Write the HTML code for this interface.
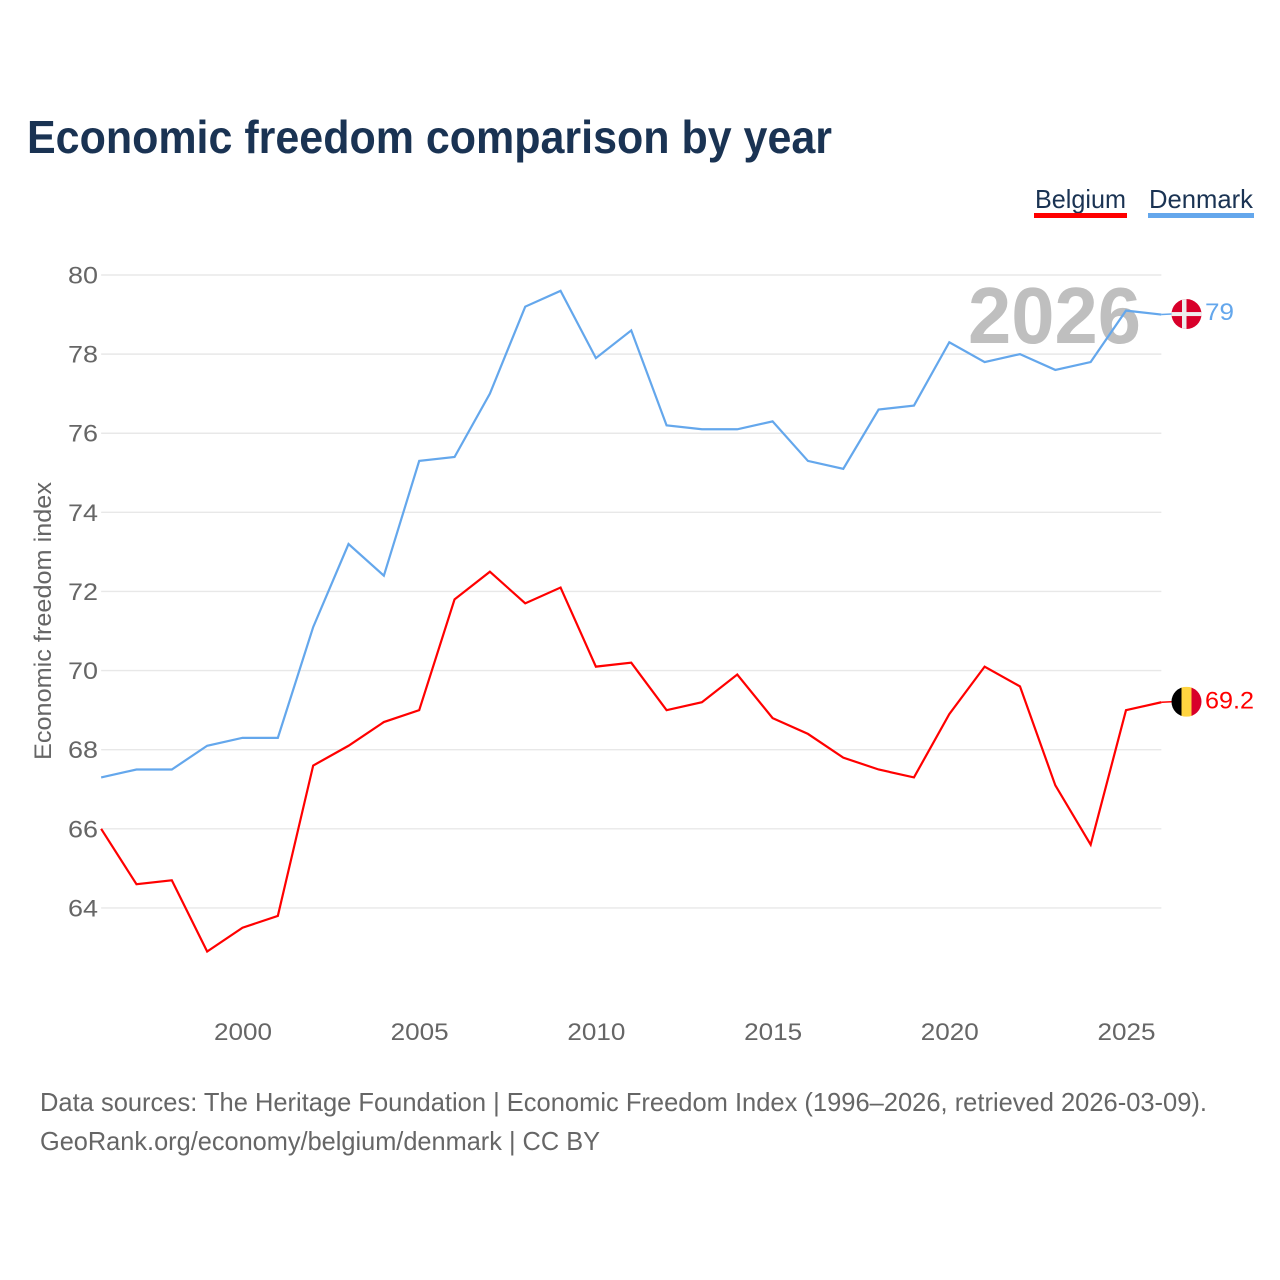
<!DOCTYPE html>
<html lang="en">
<head>
<meta charset="utf-8">
<title>Economic freedom comparison by year</title>
<style>
html,body{margin:0;padding:0;background:#fff;width:1280px;height:1280px;overflow:hidden}
svg{display:block}
text{font-family:"Liberation Sans",sans-serif}
</style>
</head>
<body>
<svg id="chart" width="1280" height="1280" viewBox="0 0 1280 1280" xmlns="http://www.w3.org/2000/svg">
  <text x="27" y="153" font-size="46" font-weight="700" fill="#1a3353" textLength="805" lengthAdjust="spacingAndGlyphs">Economic freedom comparison by year</text>

  <g>
    <g>
      <text x="1035" y="208" font-size="26" fill="#1a3353" textLength="91" lengthAdjust="spacingAndGlyphs">Belgium</text>
      <rect x="1034" y="213" width="93" height="5" fill="#ff0000"></rect>
    </g>
    <g>
      <text x="1149" y="208" font-size="26" fill="#1a3353" textLength="104" lengthAdjust="spacingAndGlyphs">Denmark</text>
      <rect x="1148" y="213" width="106" height="5" fill="#64a7ec"></rect>
    </g>
  </g>

  <g id="grid"></g>
  <g id="yticks"></g>
  <g id="xticks"></g>

  <text transform="translate(51 760) rotate(-90)" x="0" y="0" font-size="24" fill="#666666" textLength="278" lengthAdjust="spacingAndGlyphs">Economic freedom index</text>

  <text x="968" y="343" font-size="80" font-weight="700" fill="#bfbfbf" textLength="173" lengthAdjust="spacingAndGlyphs">2026</text>

  <g id="series"></g>
  <g id="ends"></g>

  <g>
    <text x="40" y="1111" font-size="26" fill="#666666" textLength="1167" lengthAdjust="spacingAndGlyphs">Data sources: The Heritage Foundation | Economic Freedom Index (1996–2026, retrieved 2026-03-09).</text>
    <text x="40" y="1150" font-size="26" fill="#666666" textLength="560" lengthAdjust="spacingAndGlyphs">GeoRank.org/economy/belgium/denmark | CC BY</text>
  </g>
</svg>
<script>
const years = [1996,1997,1998,1999,2000,2001,2002,2003,2004,2005,2006,2007,2008,2009,2010,2011,2012,2013,2014,2015,2016,2017,2018,2019,2020,2021,2022,2023,2024,2025,2026];
const belgium = [66,64.6,64.7,62.9,63.5,63.8,67.6,68.1,68.7,69,71.8,72.5,71.7,72.1,70.1,70.2,69,69.2,69.9,68.8,68.4,67.8,67.5,67.3,68.9,70.1,69.6,67.1,65.6,69,69.2];
const denmark = [67.3,67.5,67.5,68.1,68.3,68.3,71.1,73.2,72.4,75.3,75.4,77,79.2,79.6,77.9,78.6,76.2,76.1,76.1,76.3,75.3,75.1,76.6,76.7,78.3,77.8,78,77.6,77.8,79.1,79];
const yTicks = [64,66,68,70,72,74,76,78,80];
const xTicks = [2000,2005,2010,2015,2020,2025];

const NS = 'http://www.w3.org/2000/svg';
function x(year){ return 242.5 + (year - 2000) * 35.34; }
function y(value){ return 275 + (80 - value) * 39.56; }
function make(parent, tag, attrs, text){
  const el = document.createElementNS(NS, tag);
  for (const k in attrs) el.setAttribute(k, attrs[k]);
  if (text !== undefined) el.textContent = text;
  parent.appendChild(el);
  return el;
}

const grid = document.getElementById('grid');
const yG = document.getElementById('yticks');
yTicks.forEach(function(t){
  const line = make(grid, 'line', {x1:x(1996), x2:x(2026), y1:y(t), y2:y(t), stroke:'#e8e8e8', 'stroke-width':1.4});
  
  
  const label = make(yG, 'text', {x:98, y:y(t)+8.5, 'font-size':24, fill:'#666666', 'text-anchor':'end', textLength:30, lengthAdjust:'spacingAndGlyphs'}, String(t));
  
  
});

const xG = document.getElementById('xticks');
xTicks.forEach(function(t){
  const label = make(xG, 'text', {x:x(t)+0.5, y:1040, 'font-size':24, fill:'#666666', 'text-anchor':'middle', textLength:58, lengthAdjust:'spacingAndGlyphs'}, String(t));
  
  
});

function points(values){
  return values.map(function(v, i){ return x(years[i]).toFixed(2) + ',' + y(v).toFixed(2); }).join(' ');
}

const seriesG = document.getElementById('series');
const redLine = make(seriesG, 'polyline', {points:points(belgium), fill:'none', stroke:'#ff0000', 'stroke-width':2.2, 'stroke-linejoin':'miter'});


const blueLine = make(seriesG, 'polyline', {points:points(denmark), fill:'none', stroke:'#64a7ec', 'stroke-width':2.2, 'stroke-linejoin':'miter'});



const ends = document.getElementById('ends');
const lastX = x(years[years.length - 1]);
const flagX = 1186.5;
const dkY = y(denmark[denmark.length - 1]) - 0.5;
const beY = y(belgium[belgium.length - 1]) - 0.5;

const defs = make(ends, 'defs', {});
const clipDk = make(defs, 'clipPath', {id:'clip-dk'});
make(clipDk, 'circle', {cx:flagX, cy:dkY, r:15});
const clipBe = make(defs, 'clipPath', {id:'clip-be'});
make(clipBe, 'circle', {cx:flagX, cy:beY, r:15});

const connDk = make(ends, 'line', {x1:lastX, x2:flagX-15, y1:dkY+0.5, y2:dkY, stroke:'#64a7ec', 'stroke-width':1.5});


const connBe = make(ends, 'line', {x1:lastX, x2:flagX-15, y1:beY+0.5, y2:beY, stroke:'#ff0000', 'stroke-width':1.5});



const flagDk = make(ends, 'g', {'clip-path':'url(#clip-dk)'});


make(flagDk, 'rect', {x:flagX-15, y:dkY-15, width:30, height:30, fill:'#d8002a'});
make(flagDk, 'rect', {x:flagX-4.5, y:dkY-15, width:4.5, height:30, fill:'#eeeeee'});
make(flagDk, 'rect', {x:flagX-15, y:dkY-2, width:30, height:4, fill:'#eeeeee'});

const flagBe = make(ends, 'g', {'clip-path':'url(#clip-be)'});


make(flagBe, 'rect', {x:flagX-15, y:beY-15, width:10, height:30, fill:'#000000'});
make(flagBe, 'rect', {x:flagX-5, y:beY-15, width:10, height:30, fill:'#ffd440'});
make(flagBe, 'rect', {x:flagX+5, y:beY-15, width:10, height:30, fill:'#d8002a'});

const labelDk = make(ends, 'text', {x:1205, y:dkY+6, 'font-size':24, fill:'#64a7ec', textLength:29, lengthAdjust:'spacingAndGlyphs'}, String(denmark[denmark.length - 1]));


const labelBe = make(ends, 'text', {x:1205, y:beY+7, 'font-size':24, fill:'#ff0000', textLength:49, lengthAdjust:'spacingAndGlyphs'}, String(belgium[belgium.length - 1]));


</script>
</body>
</html>
